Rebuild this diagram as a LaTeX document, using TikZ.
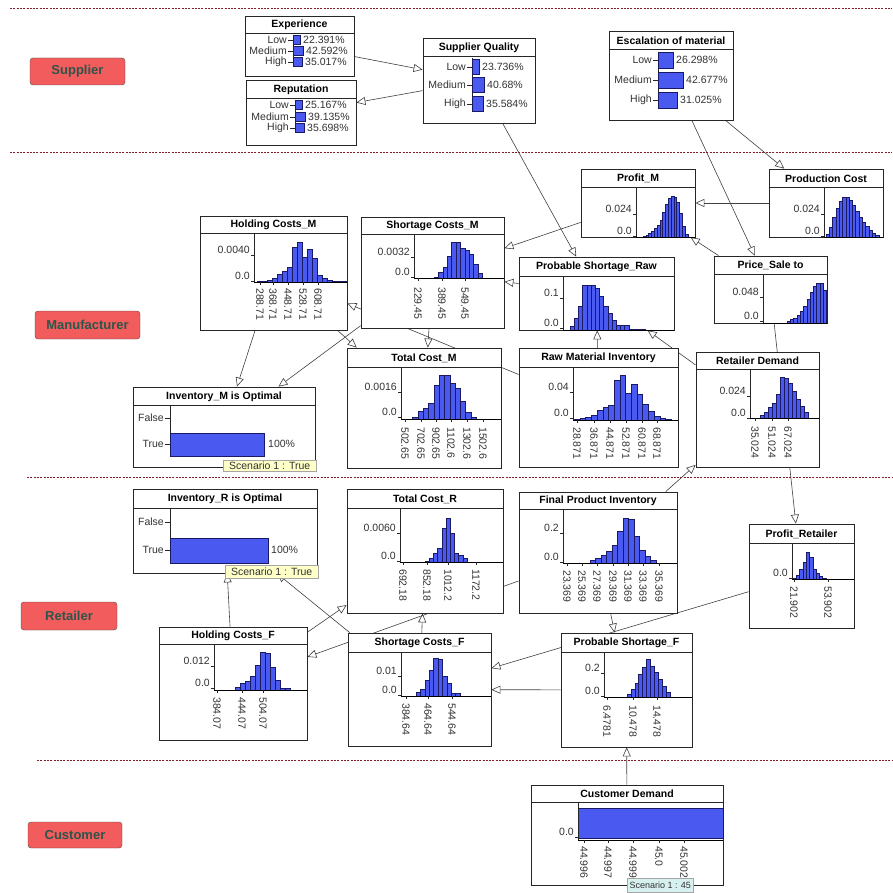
\documentclass[tikz,border=0pt]{standalone}
\usepackage{fontspec}
\setmainfont{Liberation Sans}
\usetikzlibrary{arrows.meta,fit,backgrounds}

\definecolor{barblue}{RGB}{74,90,240}
\definecolor{baredge}{RGB}{25,25,100}
\definecolor{tierred}{RGB}{242,92,92}
\definecolor{tiertext}{RGB}{45,85,75}
\definecolor{sepred}{RGB}{130,30,40}
\definecolor{tipyellow}{RGB}{255,255,200}
\definecolor{tipcyan}{RGB}{215,240,240}

\tikzset{
  netbox/.style={draw=black!85, fill=white, inner sep=0pt, line width=0.8pt},
  divline/.style={draw=black!85, line width=0.6pt},
  boxtitle/.style={font=\bfseries\fontsize{10.5}{11}\selectfont, inner sep=0pt},
  tier/.style={draw=black!70, fill=tierred, rounded corners=3pt, inner sep=0pt,
    font=\bfseries\fontsize{13}{14}\selectfont, text=tiertext},
  tierline/.style={draw=sepred, line width=0.9pt, dash pattern=on 2pt off 1.3pt},
  bar/.style={fill=barblue, draw=baredge, line width=0.5pt},
  axisline/.style={draw=black!85, line width=0.6pt},
  baseline/.style={draw=black, line width=1pt},
  ylab/.style={font=\fontsize{10.5}{11}\selectfont, inner sep=0pt, anchor=east, text=black!80},
  xlab/.style={font=\fontsize{10.5}{11}\selectfont, inner sep=0pt, anchor=west, rotate=-90, text=black!80},
  catlab/.style={font=\fontsize{10.5}{11}\selectfont, inner sep=0pt, text=black!80},
  tipbox/.style={draw=black!35, fill=tipyellow, inner sep=0pt, anchor=north west,
    font=\fontsize{10.5}{11}\selectfont, text=black!80},
  link/.style={draw=black!75, line width=0.6pt, -{Triangle[open, length=9pt, width=8pt]}}
}

% box with title bar: name, x1, y1, x2, y2, divider y, title
\newcommand{\netbox}[7]{%
  \node[netbox, fit={(#2,#3) (#4,#5)}] (#1) {};
  \draw[divline] (#2,#6) -- (#4,#6);
  \node[boxtitle] (#1-t) at ({(#2+#4)/2},{(#3+#6)/2+0.5}) {#7};
}
% histogram bars: x0, base y, width, heights
\newcommand{\bars}[4]{%
  \foreach \h [count=\i from 0] in {#4}
    \draw[bar] ({#1+\i*#3},#2) rectangle ++(#3,-\h);
}
% plot frame: axis x, top y, base y, right x
\newcommand{\plotframe}[4]{%
  \draw[axisline] (#1,#2) -- (#1,#3);
  \draw[baseline] (#1,#3) -- (#4,#3);
}
% y label: name, axis x, y, text
\newcommand{\ytick}[4]{%
  \node[ylab] (#1) at ({#2-4},#3) {#4};
  \draw[axisline] ({#2-3},{#3+5}) -- (#2,{#3+5});
}
% rotated x labels: name, base y, top y, list x/text
\newcommand{\xticks}[4]{%
  \foreach \x/\t in {#4} {
    \draw[axisline] (\x,#2) -- ++(0,3);
    \node[xlab] (#1-\x) at (\x,#3) {\t};
  }
}
% state row: name, axis x, y, bar length, bar height, state, percent
\newcommand{\catrow}[7]{%
  \node[catlab, anchor=east] (#1-l) at ({#2-6},#3) {#6};
  \draw[axisline] ({#2-5},#3) -- (#2,#3);
  \draw[bar] (#2,{#3-#5/2}) rectangle ({#2+#4},{#3+#5/2});
  \node[catlab, anchor=west] (#1-p) at ({#2+#4+3},#3) {#7};
}

\begin{document}
\begin{tikzpicture}[x=1pt, y=-1pt]
\useasboundingbox (0,0) rectangle (892,893);

% tiers
\draw[tierline] (10,8) -- (892,8);
\draw[tierline] (10,152) -- (892,152);
\draw[tierline] (27,477) -- (892,477);
\draw[tierline] (37,760) -- (892,760);
\node[tier, minimum width=95pt, minimum height=27pt] (supplier) at (77.5,71.5) {Supplier};
\node[tier, minimum width=105pt, minimum height=28pt] (manufacturer) at (87.5,325) {Manufacturer};
\node[tier, minimum width=96pt, minimum height=28pt] (retailer) at (69,616) {Retailer};
\node[tier, minimum width=94pt, minimum height=26pt] (customer) at (75,835) {Customer};

% supplier
\netbox{exp}{245}{16}{354}{76}{33}{Experience}
\draw[axisline] (293,35) -- (293,67);
\catrow{exp-low}{293}{40}{7}{9}{Low}{22.391\%}
\catrow{exp-med}{293}{51}{10}{9}{Medium}{42.592\%}
\catrow{exp-high}{293}{62}{9}{9}{High}{35.017\%}

\netbox{rep}{246}{80}{356}{145}{98}{Reputation}
\draw[axisline] (295,100) -- (295,133);
\catrow{rep-low}{295}{105}{7}{9}{Low}{25.167\%}
\catrow{rep-med}{295}{117}{10}{9}{Medium}{39.135\%}
\catrow{rep-high}{295}{128}{9}{9}{High}{35.698\%}

\netbox{sq}{423}{38}{535}{123}{56}{Supplier Quality}
\draw[axisline] (472,58) -- (472,112);
\catrow{sq-low}{472}{67}{7}{15}{Low}{23.736\%}
\catrow{sq-med}{472}{85}{12}{15}{Medium}{40.68\%}
\catrow{sq-high}{472}{104}{11}{15}{High}{35.584\%}

\netbox{esc}{609}{31}{733}{120}{49}{Escalation of material}
\draw[axisline] (658,52) -- (658,108);
\catrow{esc-low}{658}{60}{15}{16}{Low}{26.298\%}
\catrow{esc-med}{658}{80}{25}{16}{Medium}{42.677\%}
\catrow{esc-high}{658}{100}{19}{16}{High}{31.025\%}

% manufacturer
\netbox{pm}{581}{169}{695}{237}{187}{Profit\_M}
\bars{643}{237}{2.8}{1,2,3.5,5.5,8.5,12,17,25,33,39,41,40,35,24,11,3}
\plotframe{636}{187}{237}{695}
\ytick{pm-y1}{636}{209}{0.024}
\ytick{pm-y0}{636}{231}{0.0}

\netbox{pc}{769}{169}{883}{237}{187}{Production Cost}
\bars{826}{237}{3.3}{3,10,20,29,36,40,40,37,32,26,20,15,11,7,4,2}
\plotframe{824}{187}{237}{883}
\ytick{pc-y1}{824}{209}{0.024}
\ytick{pc-y0}{824}{231}{0.0}

\netbox{psr}{519}{257}{674}{330}{276}{Probable Shortage\_Raw}
\bars{570}{330}{4.2}{3.3,11.7,23.3,44.3,44.3,44.3,41.7,33.3,23.3,16.7,10,4.3,4.3,4.3,1,1,1,0.7}
\plotframe{563}{276}{330}{674}
\ytick{psr-y1}{563}{293}{0.1}
\ytick{psr-y0}{563}{323}{0.0}

\netbox{price}{714}{256}{827}{323}{274}{Price\_Sale to}
\bars{787}{323}{3.3}{2,3.5,5,8,12,17,24,31,37,40,40,33}
\plotframe{763}{274}{323}{827}
\ytick{price-y1}{763}{292}{0.048}
\ytick{price-y0}{763}{316}{0.0}

\netbox{hcm}{200}{216}{347}{330}{233}{Holding Costs\_M}
\bars{257}{282}{5}{0.7,1,1.7,4,7.7,11,15,35,39.7,24.3,32.3,23.3,6.7,3.3,1.7,1,0.7,0.3}
\plotframe{254}{233}{282}{347}
\ytick{hcm-y1}{254}{250}{0.0040}
\ytick{hcm-y0}{254}{276}{0.0}
\xticks{hcm}{282}{288}{260/288.71,273/368.71,288/448.71,303/528.71,318/608.71}

\netbox{scm}{361}{217}{504}{328}{234}{Shortage Costs\_M}
\bars{434}{278}{4.4}{1,6,11,21.7,35.7,36,30,27.3,23.3,13.3,5}
\plotframe{414}{234}{278}{504}
\ytick{scm-y1}{414}{252}{0.0032}
\ytick{scm-y0}{414}{272}{0.0}
\xticks{scm}{278}{287}{418/229.45,442/389.45,465/549.45}

\netbox{imo}{133}{387}{315}{467}{405}{Inventory\_M is Optimal}
\draw[axisline] (170,405) -- (170,457);
\node[catlab, anchor=east] (imo-f) at (164,418) {False};
\draw[axisline] (165,418) -- (170,418);
\node[catlab, anchor=east] (imo-t) at (164,444) {True};
\draw[axisline] (165,444) -- (170,444);
\draw[bar] (170,433) rectangle (264,456);
\node[catlab, anchor=west] (imo-p) at (268,444) {100\%};
\node[tipbox, minimum width=93pt, minimum height=11pt] (imo-tip) at (223,460) {Scenario 1 : True};

\netbox{tcm}{347}{348}{501}{468}{367}{Total Cost\_M}
\bars{412.7}{419}{5.3}{1.7,7.3,10.7,15.7,34,43.3,43.3,35.7,30.7,17.3,6.3,1.7}
\plotframe{401}{367}{419}{501}
\ytick{tcm-y1}{401}{387}{0.0016}
\ytick{tcm-y0}{401}{412}{0.0}
\xticks{tcm}{419}{427}{405/502.65,421/702.65,436/902.65,451/1102.6,467/1302.6,483/1502.6}

\netbox{rmi}{519}{348}{678}{467}{367}{Raw Material Inventory}
\bars{574.3}{420}{5.7}{0.5,1.7,3,5,9.3,12.7,15,40,44.3,26.7,36,26,16,9,3.3,1.7,1}
\plotframe{573}{367}{420}{678}
\ytick{rmi-y1}{573}{387}{0.04}
\ytick{rmi-y0}{573}{413}{0.0}
\xticks{rmi}{420}{427}{577/28.871,594/36.871,610/44.871,626/52.871,642/60.871,657/68.871}

\netbox{rd}{696}{352}{819}{467}{369}{Retailer Demand}
\bars{760}{418}{4}{2.7,5.7,10.7,15,23.3,40.7,40,35,26.7,19,11.7,5.7}
\plotframe{750}{369}{418}{819}
\ytick{rd-y1}{750}{391}{0.024}
\ytick{rd-y0}{750}{413}{0.0}
\xticks{rd}{418}{426}{755/35.024,772/51.024,788/67.024}

% retailer
\netbox{iro}{133}{489}{317}{573}{508}{Inventory\_R is Optimal}
\draw[axisline] (170,508) -- (170,563);
\node[catlab, anchor=east] (iro-f) at (164,522) {False};
\draw[axisline] (165,522) -- (170,522);
\node[catlab, anchor=east] (iro-t) at (164,550) {True};
\draw[axisline] (165,550) -- (170,550);
\draw[bar] (170,538) rectangle (268,563);
\node[catlab, anchor=west] (iro-p) at (271,550) {100\%};
\node[tipbox, minimum width=93pt, minimum height=13pt] (iro-tip) at (225,565) {Scenario 1 : True};

\netbox{tcr}{347}{489}{503}{613}{508}{Total Cost\_R}
\bars{425}{562}{4.2}{0.7,4,9,13.3,33.3,43.3,28.3,9,6.7,3.3}
\plotframe{400}{508}{562}{503}
\ytick{tcr-y1}{400}{528}{0.0060}
\ytick{tcr-y0}{400}{556}{0.0}
\xticks{tcr}{562}{569}{403/692.18,427/852.18,448/1012.2,476/1172.2}

\netbox{fpi}{519}{492}{677}{613}{509}{Final Product Inventory}
\bars{590}{563}{5.5}{2.7,4.3,7.7,11.7,17.7,32,44.3,43.3,26.7,12.7,6.7,2.7}
\plotframe{563}{509}{563}{677}
\ytick{fpi-y1}{563}{528}{0.2}
\ytick{fpi-y0}{563}{557}{0.0}
\xticks{fpi}{563}{570}{567/23.369,582/25.369,597/27.369,613/29.369,628/31.369,643/33.369,659/35.369}

\netbox{pr}{749}{524}{854}{628}{543}{Profit\_Retailer}
\bars{793}{579}{3.3}{0.5,3.7,9.3,17,27,22,10,5.3,2.7,1}
\plotframe{792}{543}{579}{854}
\ytick{pr-y0}{792}{573}{0.0}
\xticks{pr}{579}{586}{794/21.902,828/53.902}

\netbox{hcf}{159}{627}{307}{740}{644}{Holding Costs\_F}
\bars{235}{690}{5}{2.7,6.7,8.3,13.3,25,37.7,36.7,22.7,10,1.7,1.7}
\plotframe{214}{644}{690}{307}
\ytick{hcf-y1}{214}{661}{0.012}
\ytick{hcf-y0}{214}{683}{0.0}
\xticks{hcf}{690}{697}{217/384.07,242/444.07,263/504.07}

\netbox{scf}{348}{633}{491}{746}{652}{Shortage Costs\_F}
\bars{416}{696}{4.4}{3.3,6.7,16,26,37.7,36.7,19.3,12.7,2.7,2.7}
\plotframe{401}{652}{696}{491}
\ytick{scf-y1}{401}{671}{0.01}
\ytick{scf-y0}{401}{690}{0.0}
\xticks{scf}{696}{703}{406/384.64,428/464.64,452/544.64}

\netbox{psf}{561}{633}{692}{747}{652}{Probable Shortage\_F}
\bars{627}{697}{3.9}{2.3,8,14,22.3,29.7,37.3,30.7,24.7,17.3,10.7,5}
\plotframe{604}{652}{697}{692}
\ytick{psf-y1}{604}{668}{0.2}
\ytick{psf-y0}{604}{691}{0.0}
\xticks{psf}{697}{705}{607/6.4781,633/10.478,657/14.478}

% customer
\netbox{cd}{531}{785}{723}{885}{802}{Customer Demand}
\draw[bar] (578,808) rectangle (723,838);
\plotframe{578}{802}{840}{723}
\ytick{cd-y0}{578}{832}{0.0}
\xticks{cd}{840}{846}{584/44.996,608/44.997,633/44.999,659/45.0,684/45.002}
\node[tipbox, fill=tipcyan, minimum width=66pt, minimum height=14pt,
  font=\fontsize{9}{10}\selectfont] (cd-tip) at (627,878) {Scenario 1 : 45};

% links
\begin{scope}[on background layer]
\draw[link] (exp) -- (sq);
\draw[link] (sq) -- (rep);
\draw[link] (sq) -- (psr);
\draw[link] (esc) -- (pc);
\draw[link] (esc) -- (price);
\draw[link] (pc) -- (pm);
\draw[link] (price) -- (pm);
\draw[link] (pm) -- (scm);
\draw[link] (psr) -- (scm);
\draw[link] (rmi) -- (hcm);
\draw[link] (rmi) -- (psr);
\draw[link] (rd) -- (psr);
\draw[link] (hcm) -- (tcm);
\draw[link] (scm) -- (tcm);
\draw[link] (hcm) -- (imo);
\draw[link] (scm) -- (imo);
\draw[link] (price) -- (pr);
\draw[link] (fpi) -- (rd);
\draw[link] (fpi) -- (hcf);
\draw[link] (fpi) -- (psf);
\draw[link] (pr) -- (scf);
\draw[link] (psf) -- (scf);
\draw[link] (hcf) -- (tcr);
\draw[link] (scf) -- (tcr);
\draw[link] (hcf) -- (iro);
\draw[link] (scf) -- (iro);
\draw[link] (cd) -- (psf);
\end{scope}
\end{tikzpicture}
\end{document}
